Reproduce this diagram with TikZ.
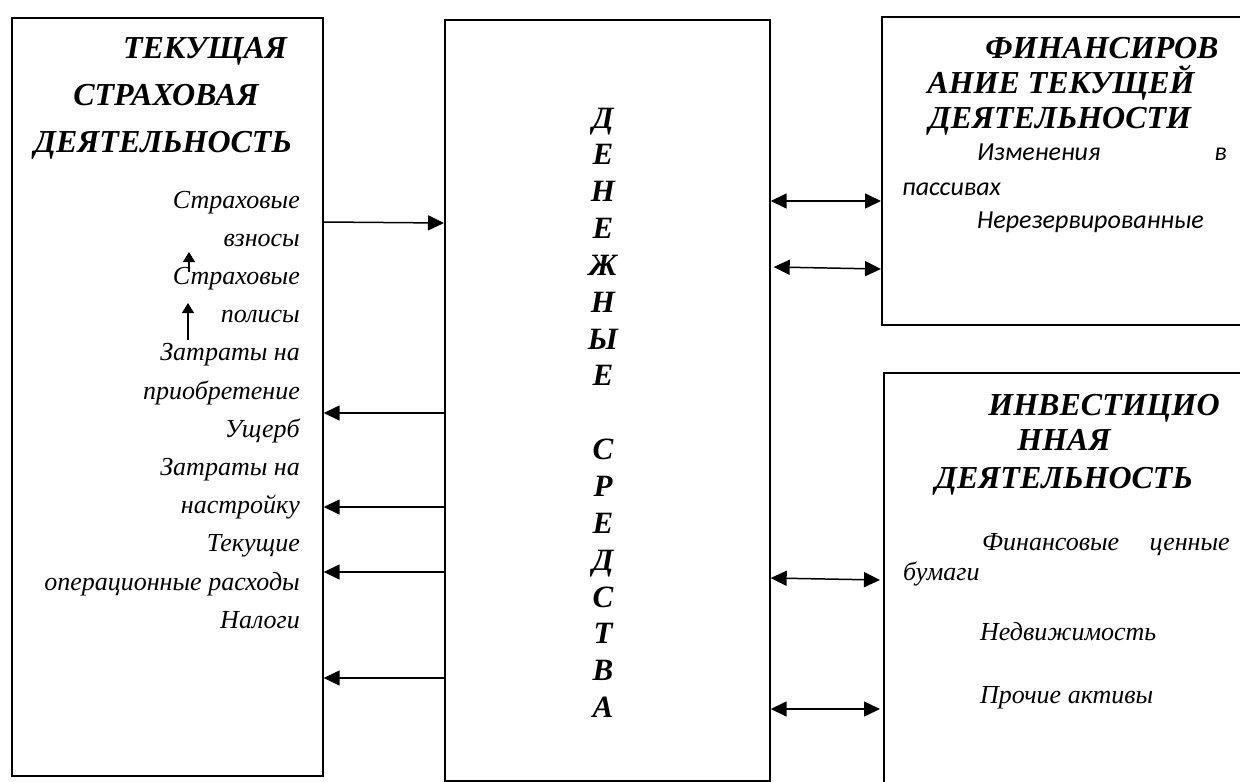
\documentclass[tikz,border=0pt]{standalone}
\usepackage{fontspec}
\setmainfont{Liberation Serif}
\newfontfamily\calfont{Carlito}
\usetikzlibrary{arrows.meta}
\tikzset{
  box/.style={draw, line width=1.7pt, anchor=north west, inner sep=0pt},
  ttl/.style={font=\fontsize{32}{38}\selectfont\bfseries\itshape, inner sep=0pt, anchor=base},
  itm/.style={font=\fontsize{26}{30}\selectfont\itshape, inner sep=0pt},
  sitm/.style={font=\fontsize{26}{30}\selectfont\calfont\itshape, inner sep=0pt},
  vlet/.style={font=\fontsize{31}{36}\selectfont\bfseries\itshape, inner sep=0pt, anchor=base},
  arr/.style={-{Triangle[length=16pt,width=15pt]}, line width=1.5pt},
  dbl/.style={{Triangle[length=16pt,width=15pt]}-{Triangle[length=16pt,width=15pt]}, line width=1.5pt},
  sarr/.style={-{Triangle[length=10pt,width=12pt]}, line width=1.3pt},
}
\begin{document}
\begin{tikzpicture}[x=1pt,y=-1pt]
\useasboundingbox (0,0) rectangle (1240,782);
\clip (0,0) rectangle (1240,782);
\fill[white] (0,0) rectangle (1240,782);
% boxes
\node[box, minimum width=311pt, minimum height=758pt] (L) at (11,17) {};
\node[box, minimum width=325pt, minimum height=761pt] (C) at (444,19) {};
\node[box, minimum width=400pt, minimum height=308pt] (F) at (881,16) {};
\node[box, minimum width=400pt, minimum height=450pt] (I) at (883,372) {};
% left box title
\node[ttl] (lt1) at (205,58) {ТЕКУЩАЯ};
\node[ttl] (lt2) at (166,105) {СТРАХОВАЯ};
\node[ttl] (lt3) at (163,152) {ДЕЯТЕЛЬНОСТЬ};
% left items
\foreach \k/\t in {0/Страховые,1/взносы,2/Страховые,3/полисы,4/Затраты на,5/приобретение,6/Ущерб,7/Затраты на,8/настройку,9/Текущие,10/операционные расходы,11/Налоги}
  \node[itm, anchor=base east] (li\k) at (300,{208+38.2*\k}) {\t};
% centre letters
\foreach \k/\t in {0/Д,1/Е,2/Н,3/Е,4/Ж,5/Н,6/Ы,7/Е,9/С,10/Р,11/Е,12/Д,13/С,14/Т,15/В,16/А}
  \node[vlet] (cl\k) at (603,{128+36.85*\k}) {\t};
% top right
\node[ttl] (ft1) at (1102,58) {ФИНАНСИРОВ};
\node[ttl] (ft2) at (1061,93) {АНИЕ ТЕКУЩЕЙ};
\node[ttl] (ft3) at (1060,128) {ДЕЯТЕЛЬНОСТИ};
\node[sitm, anchor=base west] (fi1) at (977,160) {Изменения};
\node[sitm, anchor=base east] (fi2) at (1227,160) {в};
\node[sitm, anchor=base west] (fi3) at (902,195) {пассивах};
\node[sitm, anchor=base west] (fi4) at (977,228) {Нерезервированные};
% bottom right
\node[ttl] (it1) at (1104,415) {ИНВЕСТИЦИО};
\node[ttl] (it2) at (1064,450) {ННАЯ};
\node[ttl] (it3) at (1064,488) {ДЕЯТЕЛЬНОСТЬ};
\node[itm, anchor=base west] (ii1) at (982,550) {Финансовые};
\node[itm, anchor=base east] (ii2) at (1230,550) {ценные};
\node[itm, anchor=base west] (ii3) at (903,580) {бумаги};
\node[itm, anchor=base west] (ii4) at (980,640) {Недвижимость};
\node[itm, anchor=base west] (ii5) at (980,703) {Прочие активы};
% connectors
\draw[arr] (L.east |- 0,222) -- (C.west |- 0,223);
\foreach \yy in {413,507,572,678}
  \draw[arr] (C.west |- 0,\yy) -- (L.east |- 0,\yy);
\draw[dbl] (C.east |- 0,201) -- (F.west |- 0,201);
\draw[dbl] ([xshift=3pt]C.east |- 0,267) -- (F.west |- 0,269);
\draw[dbl] (C.east |- 0,578) -- ([xshift=-3pt]I.west |- 0,580);
\draw[dbl] (C.east |- 0,709) -- ([xshift=-3pt]I.west |- 0,709);
% small up arrows
\coordinate (s1) at (189,272);
\coordinate (t1) at (189,252);
\coordinate (s2) at (188,340);
\coordinate (t2) at (188,303);
\draw[sarr] (s1) -- (t1);
\draw[sarr] (s2) -- (t2);
\end{tikzpicture}
\end{document}
